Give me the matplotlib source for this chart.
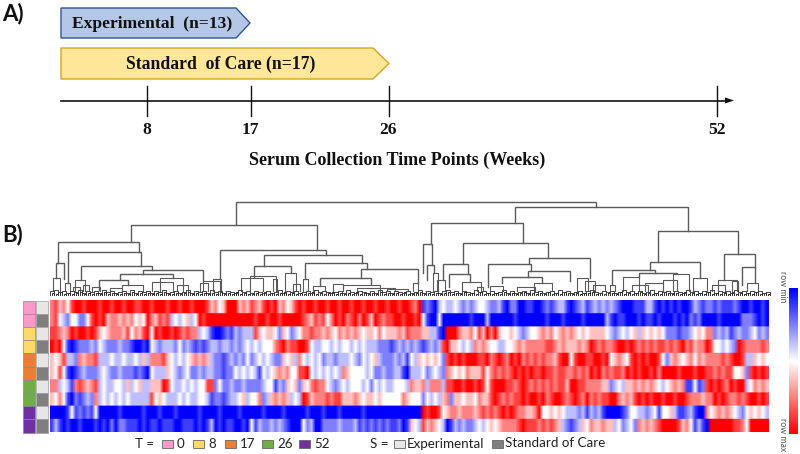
import numpy as np
import matplotlib.pyplot as plt
from matplotlib.colors import LinearSegmentedColormap
from matplotlib.patches import Polygon, Rectangle

# heatmap, one string per row, 0 = full red, 4 = white, 8 = full blue
heat_rows = [
    "21324 10010 00100 10010 01100 10001 00100 10001 32430 00323 12310 10324 31010 01001 00100 10010 01001 00100 12076 78545 54565 65445 66578 66887 78876 76557 87657 65656 56788 87775 57878 78788 75676 67677 76788 78878",
    "21456 44664 10103 22323 24340 23121 54543 54010 00000 00000 01001 00100 00012 31214 20102 10201 30121 10010 01047 88488 88888 78885 88888 87888 88887 88878 88878 88885 78778 88787 78788 87878 67688 88788 88866 67878",
    "11232 01001 01343 22231 42310 40100 10121 22545 78876 75655 51343 34634 65422 12232 34232 32343 34243 33231 22233 55780 00233 24130 20344 34565 44323 24323 23434 33334 56545 43534 34346 66766 54342 26565 76566 54656",
    "01047 87666 56456 66566 78878 45655 56465 67676 55655 65654 54544 42102 11001 45544 54544 54545 55666 76565 65676 56510 33454 52323 44554 43232 22221 12323 33232 01212 21001 01212 12112 12102 13220 14454 56012 22212",
    "34315 56232 21555 45545 54535 22213 45454 32323 56676 56564 65454 56634 35245 45465 56555 45645 43566 65657 45343 43461 01010 00110 21012 01021 21212 23100 41001 10010 43234 10101 00146 32343 24232 22212 10015 53434",
    "34147 87656 66545 66566 67678 45553 45654 66565 56676 64545 45745 43232 44110 45454 54523 44445 46656 65578 55546 54562 34342 33314 21212 10101 01101 12112 21212 01021 21120 10100 10200 00100 01001 12121 14436 10101",
    "22545 72123 21545 54453 54355 33301 45545 45441 16466 56656 66654 47563 43634 21224 56545 44454 64545 54445 23325 22251 10010 01014 10001 12101 21212 12113 00112 22233 65453 32323 23454 32327 74761 01012 01005 42323",
    "34247 86765 62545 45454 55555 14345 55454 55445 76676 55435 44265 32323 54501 32221 21133 32343 34344 44423 44464 54532 63343 34233 10121 21101 00102 10012 10120 21211 00232 31010 10010 01001 22232 20101 22121 00101",
    "88887 47676 74888 88788 88878 88788 87888 88788 88788 88788 88878 88878 88887 88878 88788 88878 88888 88888 88801 00143 22322 23212 12101 01223 32044 34345 55657 56578 88876 44556 54744 35776 57882 43232 34564 34345",
    "75787 88788 87878 68667 77878 77877 78877 78787 58787 78878 47566 56567 88846 58866 66566 65767 67676 77687 34513 23458 75656 65454 34322 22101 11212 12356 76534 23323 35465 46232 32100 00132 47578 00000 01124 00000",
]

# row annotations
time_colors = ["#ff99cc", "#ff99cc", "#ffd966", "#ffd966", "#ed7d31", "#ed7d31", "#70ad47", "#70ad47", "#7030a0", "#7030a0"]
study_colors = ["#e6e6e6", "#7f7f7f"] * 5

# big dendrogram links: left x, right x, top y, left leg end, right leg end
links = [
    (236, 596, 202, 225, 207), (131, 317, 225, 242, 250), (58, 139, 242, 263, 252),
    (68, 141, 252, 283, 266), (81, 152, 266, 280, 270), (143, 203, 270, 274, 281),
    (120, 173, 274, 280, 278), (99, 128, 280, 290, 285), (56, 64, 263, 278, 279),
    (220, 326, 250, 279, 255), (264, 362, 255, 266, 263), (254, 291, 266, 277, 273),
    (305, 367, 263, 279, 269), (361, 418, 269, 278, 283), (320, 371, 278, 286, 284),
    (515, 688, 207, 223, 231), (431, 523, 223, 244, 243), (423, 432, 244, 273, 265),
    (427, 434, 265, 280, 273), (463, 548, 243, 264, 258), (443, 468, 264, 280, 274),
    (449, 470, 274, 287, 282), (529, 590, 258, 264, 278), (488, 531, 264, 287, 271),
    (528, 570, 271, 277, 281), (502, 542, 277, 283, 283), (658, 738, 231, 262, 254),
    (650, 700, 262, 270, 278), (612, 655, 270, 285, 273), (639, 677, 273, 277, 274),
    (724, 755, 254, 280, 267), (742, 755, 267, 285, 283),
]

# mid level links: left x, right x, top y
mid_left = [53, 65, 75, 83, 73, 92, 110, 122, 152, 160, 177, 200, 203, 213, 241, 250, 273, 285, 293, 303, 313, 333, 343, 357, 387, 413, 433, 437, 462, 477, 490, 517, 534, 577, 585, 593, 610, 623, 632, 645, 663, 673, 693, 712, 718, 732, 747]
mid_right = [60, 70, 85, 89, 80, 100, 122, 143, 173, 183, 188, 208, 220, 221, 263, 276, 277, 296, 300, 308, 325, 343, 380, 395, 408, 418, 438, 445, 481, 483, 503, 535, 552, 588, 595, 605, 615, 639, 648, 663, 677, 689, 707, 725, 737, 738, 758]
mid_top = [278, 283, 280, 285, 287, 287, 288, 285, 282, 278, 285, 283, 281, 279, 278, 276, 279, 273, 284, 279, 286, 284, 285, 288, 289, 283, 273, 280, 282, 287, 286, 287, 283, 278, 281, 285, 285, 277, 285, 283, 280, 274, 278, 285, 280, 281, 283]

# height of the small leaf clusters along the base, one digit per 4 px
leaf_heights = (
    "4534243524 3425342342 5243424352 3423524342 5342432534 2432423524 3423425343 2342532432 4253424324 "
    "2352434245 3424325342 4235242342 5342342534 2342453243 4235342423 5243424325 3424352434 2534243423"
).replace(" ", "")
leaf_heights_low = (
    "2131212312 1213121121 3121212131 1212312121 2131213121 1213121231 2121231212 3121213121 2131212131 "
    "1231212123 1213121312 1213121231 2121312132 1212231212 2131212312 1213212131 2121312121 3121213121"
).replace(" ", "")

row_labels = ["row min", "row max"]
time_labels = ["0", "8", "17", "26", "52"]
time_legend = ["#ff99cc", "#ffd966", "#ed7d31", "#70ad47", "#7030a0"]
week_ticks = [147, 250.5, 388.5, 717]
week_labels = ["8", "17", "26", "52"]

heat = np.array([[int(c) for c in r.replace(" ", "")] for r in heat_rows])

rwb = LinearSegmentedColormap.from_list("rwb", ["#ff0000", "#ffffff", "#0000ff"])

fig = plt.figure(figsize=(8, 4.54), dpi=100)
ax = fig.add_axes([0, 0, 1, 1])
serif = "Liberation Serif"
sans = "Lato"

# panel A
ax.text(2, 14, "A)", fontsize=16, fontweight="bold", family=sans, va="center", color="#111111")
ax.add_patch(Polygon([(61, 8), (236, 8), (250, 23), (236, 38), (61, 38)], fc="#b4c7e7", ec="#2f5597", lw=1))
ax.add_patch(Polygon([(61, 48), (373, 48), (389, 63.5), (373, 79), (61, 79)], fc="#ffe699", ec="#d6a520", lw=1))
ax.text(152, 24.5, "Experimental  (n=13)", family=serif, fontweight="bold", fontsize=12.6, ha="center", va="center", color="#111111")
ax.text(221, 64.5, "Standard  of Care (n=17)", family=serif, fontweight="bold", fontsize=12.7, ha="center", va="center", color="#111111")
ax.plot([61, 727], [100.5, 100.5], color="#111111", lw=1.2)
ax.add_patch(Polygon([(725, 97.5), (734, 100.5), (725, 103.5)], fc="#111111", ec="none"))
for x, lab in zip(week_ticks, week_labels):
    ax.plot([x, x], [86, 116], color="#111111", lw=1)
    ax.text(x, 130.5, lab, family=serif, fontweight="bold", fontsize=12.6, ha="center", va="center", color="#111111")
ax.text(397, 160, "Serum Collection Time Points (Weeks)", family=serif, fontweight="bold", fontsize=13, ha="center", va="center", color="#111111")

# panel B
ax.text(2, 235, "B)", fontsize=16, fontweight="bold", family=sans, va="center", color="#111111")

den = "#5a5a5a"
for l, r, t, a, b in links:
    ax.plot([l, l, r, r], [a, t, t, b], color=den, lw=1, solid_joinstyle="miter")
for l, r, t in zip(mid_left, mid_right, mid_top):
    ax.plot([l, l, r, r], [291, t, t, 291], color=den, lw=0.8)
for i, h in enumerate(leaf_heights):
    x = 50 + 4 * i
    ax.plot([x, x, x + 4, x + 4], [294.5, 294.5 - int(h), 294.5 - int(h), 294.5], color="#444444", lw=0.7)
for i, h in enumerate(leaf_heights_low):
    x = 52 + 4 * i
    ax.plot([x, x, x + 2, x + 2], [294.5, 294.5 - int(h), 294.5 - int(h), 294.5], color="#333333", lw=0.7)

# rows repeated so the smoothing only softens the columns
ax.imshow(np.repeat(heat, 24, axis=0), cmap=rwb, vmin=0, vmax=8, aspect="auto", extent=(50, 769, 432.5, 300.5), interpolation="bilinear")

for i in range(10):
    top = 300.5 + i * 13.2
    ax.add_patch(Rectangle((22.5, top), 12.5, 13.2, fc=time_colors[i], ec="#8a8a8a", lw=0.5))
    ax.add_patch(Rectangle((35.5, top), 12.5, 13.2, fc=study_colors[i], ec="#a0a0a0", lw=0.5))

# colour bar
ax.imshow(np.linspace(8, 0, 100).reshape(-1, 1), cmap=rwb, vmin=0, vmax=8, aspect="auto", extent=(789, 798, 434, 288))
ax.text(783, 287, row_labels[0], fontsize=6.3, rotation=270, ha="center", va="center", color="#555555", family=sans)
ax.text(783, 435, row_labels[1], fontsize=6.3, rotation=270, ha="center", va="center", color="#555555", family=sans)

# legends
ax.text(135, 444, "T =", family=sans, fontsize=9.6, va="center", color="#222222")
for x, c, lab in zip([162, 193, 225, 262, 299], time_legend, time_labels):
    ax.add_patch(Rectangle((x, 440), 10.5, 8, fc=c, ec="#666666", lw=0.6))
    ax.text(x + 15, 444, lab, family=sans, fontsize=9.6, va="center", color="#222222")
ax.text(370, 444, "S =", family=sans, fontsize=9.6, va="center", color="#222222")
ax.add_patch(Rectangle((394, 440), 10.5, 8, fc="#e6e6e6", ec="#666666", lw=0.6))
ax.text(407, 444, "Experimental", family=sans, fontsize=9.6, va="center", color="#222222")
ax.add_patch(Rectangle((492, 440), 10.5, 8, fc="#7f7f7f", ec="#666666", lw=0.6))
ax.text(505, 443, "Standard of Care", family=sans, fontsize=9.6, va="center", color="#222222")

ax.set_xlim(0, 800)
ax.set_ylim(454, 0)
ax.axis("off")
fig.savefig("out.png", dpi=100)
